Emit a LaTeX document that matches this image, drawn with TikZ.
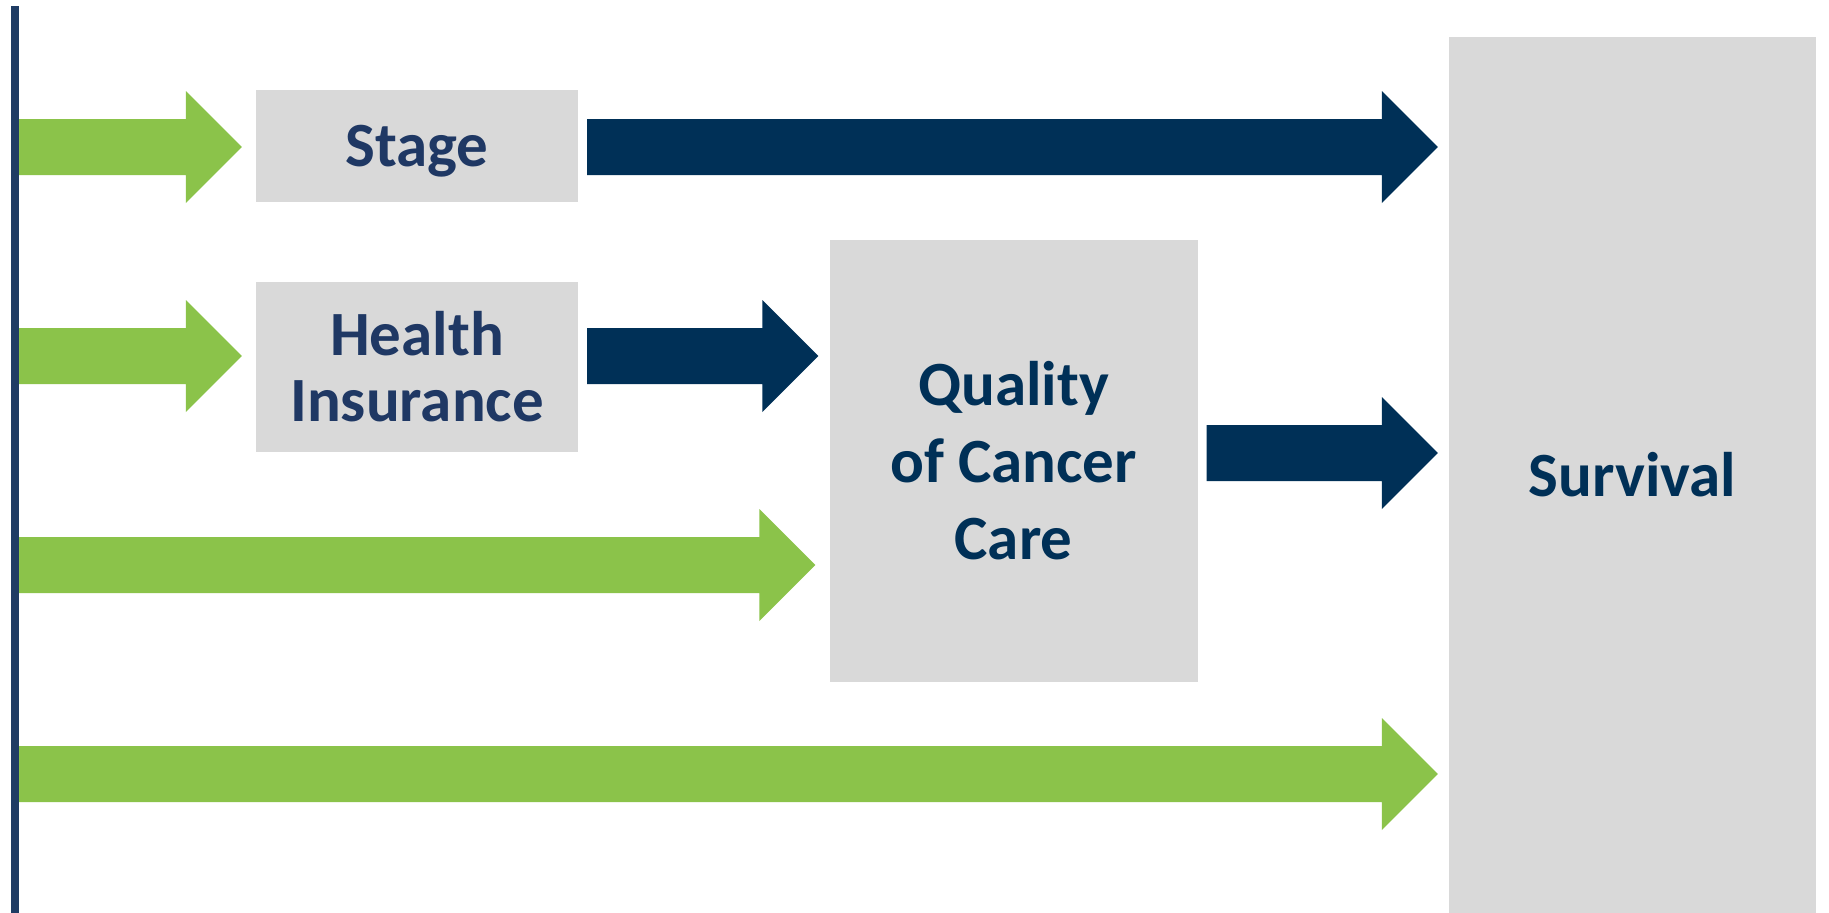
\documentclass[tikz,border=0pt]{standalone}
\usepackage{fontspec}
\setmainfont{Carlito}
\usetikzlibrary{calc}

\definecolor{leafgreen}{RGB}{139,195,74}
\definecolor{deepnavy}{RGB}{0,48,87}
\definecolor{inknavy}{RGB}{31,56,100}
\definecolor{axisnavy}{RGB}{31,60,100}
\definecolor{boxgray}{RGB}{217,217,217}

% fat arrow: colour, start point, tip point (only x of the tip is used)
\newcommand{\blockarrow}[3]{%
	\fill[#1] let \p1=(#2), \p2=(#3) in
		(\x1,\y1+28pt) -- (\x2-56pt,\y1+28pt) -- (\x2-56pt,\y1+56pt) -- (\x2,\y1)
		-- (\x2-56pt,\y1-56pt) -- (\x2-56pt,\y1-28pt) -- (\x1,\y1-28pt) -- cycle;}

\begin{document}
\begin{tikzpicture}[x=1pt,y=-1pt,
	box/.style={fill=boxgray, inner sep=0pt, align=center, font=\fontsize{63}{66}\selectfont\bfseries}]
	\useasboundingbox (0,0) rectangle (1829,913);

	\node[box, minimum width=322pt, minimum height=112pt, text depth=0pt, text=inknavy] (stage) at (417,146) {Stage};
	\node[box, minimum width=322pt, minimum height=170pt, text=inknavy] (health) at (417,367) {Health\\Insurance};
	\node[box, minimum width=368pt, minimum height=442pt, text=deepnavy, font=\fontsize{63}{77}\selectfont\bfseries] (quality) at (1013.5,461) {Quality\\of Cancer\\Care};
	\node[box, minimum width=367pt, minimum height=876pt, text=deepnavy] (survival) at (1632.5,475) {Survival};

	\coordinate (top) at (15,6);
	\coordinate (bottom) at (15,913);
	\draw[axisnavy, line width=8pt] (top) -- (bottom);

	\coordinate (row1) at (19,147);
	\coordinate (row2) at (19,356);
	\coordinate (row3) at (19,565);
	\coordinate (row4) at (19,774);
	\coordinate (row5) at (19,453);

	\blockarrow{leafgreen}{row1}{$(stage.west)+(-14,0)$}
	\blockarrow{leafgreen}{row2}{$(health.west)+(-14,0)$}
	\blockarrow{leafgreen}{row3}{$(quality.west)+(-14,0)$}
	\blockarrow{leafgreen}{row4}{$(survival.west)+(-11,0)$}

	\blockarrow{deepnavy}{$(row1 -| stage.east)+(9,0)$}{$(survival.west)+(-11,0)$}
	\blockarrow{deepnavy}{$(row2 -| health.east)+(9,0)$}{$(quality.west)+(-11,0)$}
	\blockarrow{deepnavy}{$(row5 -| quality.east)+(9,0)$}{$(survival.west)+(-11,0)$}

\end{tikzpicture}
\end{document}
